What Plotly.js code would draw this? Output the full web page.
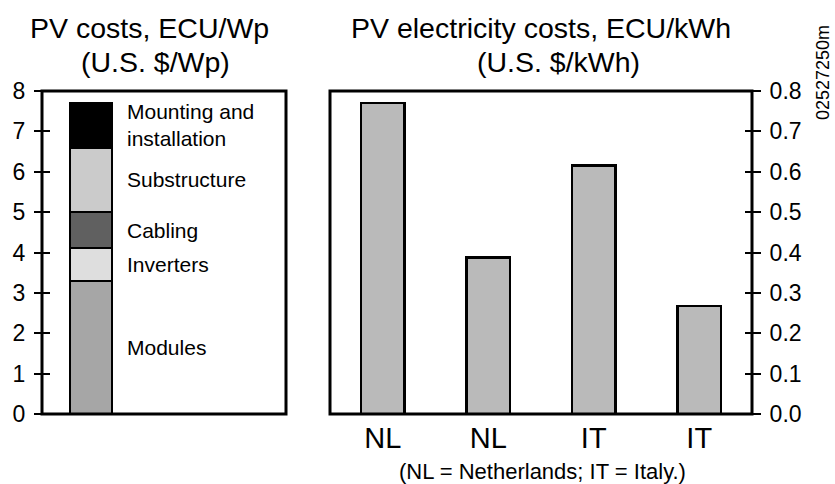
<!DOCTYPE html>
<html>
<head>
<meta charset="utf-8">
<script src="https://cdn.plot.ly/plotly-3.0.1.min.js"></script>
<style>
html,body{margin:0;padding:0;background:#fff;}
#chart{width:835px;height:484px;}
</style>
</head>
<body>
<div id="chart"></div>
<script>
// ---- data ----
const costComponents = ['Modules', 'Inverters', 'Cabling', 'Substructure', 'Mounting and<br>installation'];
const costValues = [3.3, 0.8, 0.9, 1.6, 1.1];
const costTicks = [0, 1, 2, 3, 4, 5, 6, 7, 8];

const electricityLabels = ['NL', 'NL', 'IT', 'IT'];
const electricityValues = [0.77, 0.388, 0.616, 0.268];
const electricityTicks = [0, 0.1, 0.2, 0.3, 0.4, 0.5, 0.6, 0.7, 0.8];

// ---- styles ----
const componentColors = ['#a6a6a6', '#dedede', '#606060', '#cbcbcb', '#000000'];
const FONT = 'Liberation Sans, Arial, Helvetica, sans-serif';

const traces = [];
costComponents.forEach((name, i) => {
  traces.push({
    type: 'bar', x: [0], y: [costValues[i]], name: name,
    width: 0.43, xaxis: 'x', yaxis: 'y',
    marker: {color: componentColors[i], line: {color: '#000', width: 2}},
    hoverinfo: 'skip', showlegend: false
  });
});
const elecX = electricityLabels.map((_, i) => i);
traces.push({
  type: 'bar', x: elecX, y: electricityValues, width: 0.41,
  xaxis: 'x2', yaxis: 'y2',
  marker: {color: '#bababa', line: {color: '#000', width: 2.5}},
  hoverinfo: 'skip', showlegend: false
});

// segment labels
const annotations = [];
let cum = 0;
costComponents.forEach((name, i) => {
  const mid = cum + costValues[i] / 2;
  cum += costValues[i];
  annotations.push({
    xref: 'x', yref: 'y', x: 0.35, y: mid, text: name, showarrow: false,
    xanchor: 'left', yanchor: 'middle', align: 'left',
    font: {family: FONT, size: 21, color: '#000'}
  });
});

const W = 835, H = 484;
function px(x){ return x / W; }
function py(y){ return 1 - y / H; }
const titles = [
  ['PV costs, ECU/Wp', 149, 28, 28.5],
  ['(U.S. $/Wp)', 155, 62, 28.5],
  ['PV electricity costs, ECU/kWh', 541, 28, 28.5],
  ['(U.S. $/kWh)', 558, 62, 28.5],
  ['(NL = Netherlands; IT = Italy.)', 542, 471, 22]
];
titles.forEach(t => annotations.push({
  xref: 'paper', yref: 'paper', x: px(t[1]), y: py(t[2]), text: t[0],
  showarrow: false, xanchor: 'center', yanchor: 'middle',
  font: {family: FONT, size: t[3], color: '#000'}
}));
annotations.push({
  xref: 'paper', yref: 'paper', x: px(823), y: py(73), text: '02527250m',
  textangle: -90, showarrow: false, xanchor: 'center', yanchor: 'middle',
  font: {family: FONT, size: 18, color: '#000'}
});

const yDom = [1 - 414 / H, 1 - 91 / H];
const xDomL = [px(42), px(286)];
const xDomR = [px(330), px(752)];
const TL = 8; // half tick length: ticks cross the axis line
const common = {showline: false, showgrid: false, zeroline: false, fixedrange: true};

// panel frames (drawn relative to each subplot's domain)
const frame = (xr, yr) => ({
  type: 'rect', xref: xr + ' domain', yref: yr + ' domain',
  x0: 0, x1: 1, y0: 0, y1: 1, line: {color: '#000', width: 3}, layer: 'above'
});

const layout = {
  width: W, height: H,
  margin: {l: 0, r: 0, t: 0, b: 0},
  paper_bgcolor: '#fff', plot_bgcolor: '#fff',
  barmode: 'stack', showlegend: false,
  font: {family: FONT, color: '#000'},
  xaxis: Object.assign({}, common, {
    domain: xDomL, range: [-0.5, 2.0], anchor: 'y',
    showticklabels: false, ticks: ''
  }),
  yaxis: Object.assign({}, common, {
    domain: yDom, range: [0, 8], anchor: 'free', position: px(42 + TL), side: 'left',
    tickvals: costTicks, ticktext: costTicks.map(String),
    ticks: 'outside', ticklen: 2 * TL, tickwidth: 2, tickcolor: '#000',
    tickfont: {family: FONT, size: 23}, ticklabelstandoff: 4
  }),
  xaxis2: Object.assign({}, common, {
    domain: xDomR, range: [-0.5, 3.5], anchor: 'y2',
    tickvals: elecX, ticktext: electricityLabels, ticks: '',
    tickfont: {family: FONT, size: 29}, ticklabelstandoff: 4
  }),
  yaxis2: Object.assign({}, common, {
    domain: yDom, range: [0, 0.8], anchor: 'free', position: px(752 - TL), side: 'right',
    tickvals: electricityTicks, ticktext: electricityTicks.map(v => v.toFixed(1)),
    ticks: 'outside', ticklen: 2 * TL, tickwidth: 2, tickcolor: '#000',
    tickfont: {family: FONT, size: 23}, ticklabelstandoff: 4
  }),
  shapes: [frame('x', 'y'), frame('x2', 'y2')],
  annotations: annotations
};

Plotly.newPlot('chart', traces, layout, {displayModeBar: false, staticPlot: true});
</script>
</body>
</html>
